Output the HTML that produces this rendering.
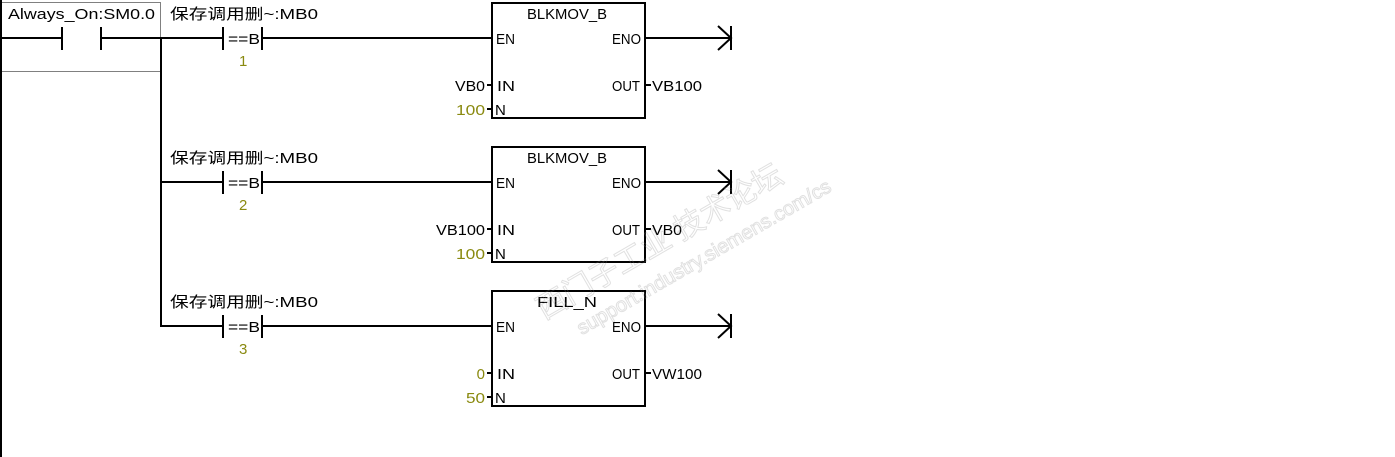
<!DOCTYPE html>
<html><head><meta charset="utf-8"><style>
html,body{margin:0;padding:0;background:#fff;}
svg{display:block;}
text{font-family:"Liberation Sans","Noto Sans CJK SC",sans-serif;font-size:15px;fill:#000;}
.o{fill:#8a8a10;}
</style></head><body>
<svg width="1395" height="457" viewBox="0 0 1395 457" xmlns="http://www.w3.org/2000/svg">
<defs>
<g id="rung">
  <line x1="161" y1="38" x2="223" y2="38" stroke="#000" stroke-width="2"/>
  <line x1="223" y1="27" x2="223" y2="50" stroke="#000" stroke-width="2"/>
  <line x1="262" y1="27" x2="262" y2="50" stroke="#000" stroke-width="2"/>
  <text x="228" y="44" textLength="32" lengthAdjust="spacingAndGlyphs">==B</text>
  <line x1="262" y1="38" x2="492" y2="38" stroke="#000" stroke-width="2"/>
  <rect x="492" y="3" width="153" height="115" fill="none" stroke="#000" stroke-width="2"/>
  <text x="496" y="44" textLength="19" lengthAdjust="spacingAndGlyphs">EN</text>
  <text x="612" y="44" textLength="29" lengthAdjust="spacingAndGlyphs">ENO</text>
  <text x="497" y="91" textLength="18" lengthAdjust="spacingAndGlyphs">IN</text>
  <text x="495" y="115">N</text>
  <text x="612" y="91" textLength="28" lengthAdjust="spacingAndGlyphs">OUT</text>
  <line x1="487" y1="85" x2="492" y2="85" stroke="#000" stroke-width="2"/>
  <line x1="487" y1="109" x2="492" y2="109" stroke="#000" stroke-width="2"/>
  <line x1="645" y1="85" x2="651" y2="85" stroke="#000" stroke-width="2"/>
  <line x1="645" y1="38" x2="731" y2="38" stroke="#000" stroke-width="2"/>
  <polyline points="718,26 731,38 718,50" fill="none" stroke="#000" stroke-width="2"/>
  <line x1="731" y1="26" x2="731" y2="50" stroke="#000" stroke-width="2"/>
</g>
</defs>
<line x1="1" y1="0" x2="1" y2="457" stroke="#000" stroke-width="2"/>
<rect x="1.5" y="2.5" width="159" height="69" fill="none" stroke="#000" stroke-width="1" stroke-dasharray="1,1"/>
<line x1="1" y1="38" x2="62" y2="38" stroke="#000" stroke-width="2"/>
<line x1="62" y1="27" x2="62" y2="50" stroke="#000" stroke-width="2"/>
<line x1="101" y1="27" x2="101" y2="50" stroke="#000" stroke-width="2"/>
<line x1="101" y1="38" x2="161" y2="38" stroke="#000" stroke-width="2"/>
<line x1="161" y1="38" x2="161" y2="327" stroke="#000" stroke-width="2"/>
<text x="8" y="19" textLength="147" lengthAdjust="spacingAndGlyphs">Always_On:SM0.0</text>

<use href="#rung"/>
<use href="#rung" y="144"/>
<use href="#rung" y="288"/>

<text x="170" y="19" textLength="148" lengthAdjust="spacingAndGlyphs">保存调用删~:MB0</text>
<text x="170" y="163" textLength="148" lengthAdjust="spacingAndGlyphs">保存调用删~:MB0</text>
<text x="170" y="307" textLength="148" lengthAdjust="spacingAndGlyphs">保存调用删~:MB0</text>
<text class="o" x="239" y="66">1</text>
<text class="o" x="239" y="210">2</text>
<text class="o" x="239" y="354">3</text>

<text x="567" y="19" text-anchor="middle" textLength="80" lengthAdjust="spacingAndGlyphs">BLKMOV_B</text>
<text x="567" y="163" text-anchor="middle" textLength="80" lengthAdjust="spacingAndGlyphs">BLKMOV_B</text>
<text x="567" y="307" text-anchor="middle" textLength="60" lengthAdjust="spacingAndGlyphs">FILL_N</text>

<text x="485" y="91" text-anchor="end" textLength="30" lengthAdjust="spacingAndGlyphs">VB0</text>
<text class="o" x="485" y="115" text-anchor="end" textLength="29" lengthAdjust="spacingAndGlyphs">100</text>
<text x="652" y="91" textLength="50" lengthAdjust="spacingAndGlyphs">VB100</text>

<text x="485" y="235" text-anchor="end" textLength="49" lengthAdjust="spacingAndGlyphs">VB100</text>
<text class="o" x="485" y="259" text-anchor="end" textLength="29" lengthAdjust="spacingAndGlyphs">100</text>
<text x="652" y="235" textLength="30" lengthAdjust="spacingAndGlyphs">VB0</text>

<text class="o" x="485" y="379" text-anchor="end">0</text>
<text class="o" x="485" y="403" text-anchor="end" textLength="19" lengthAdjust="spacingAndGlyphs">50</text>
<text x="652" y="379" textLength="50" lengthAdjust="spacingAndGlyphs">VW100</text>

<g transform="rotate(-30 700 230)" opacity="0.25">
<text x="520" y="230" style="font-family:'Liberation Sans','Noto Sans CJK SC',sans-serif;font-size:30px;fill:none;stroke:#888;stroke-width:1">西门子工业 技术论坛</text>
<text x="545" y="262" style="font-family:'Liberation Sans',sans-serif;font-size:20px;fill:none;stroke:#888;stroke-width:1">support.industry.siemens.com/cs</text>
</g>
</svg>
</body></html>
